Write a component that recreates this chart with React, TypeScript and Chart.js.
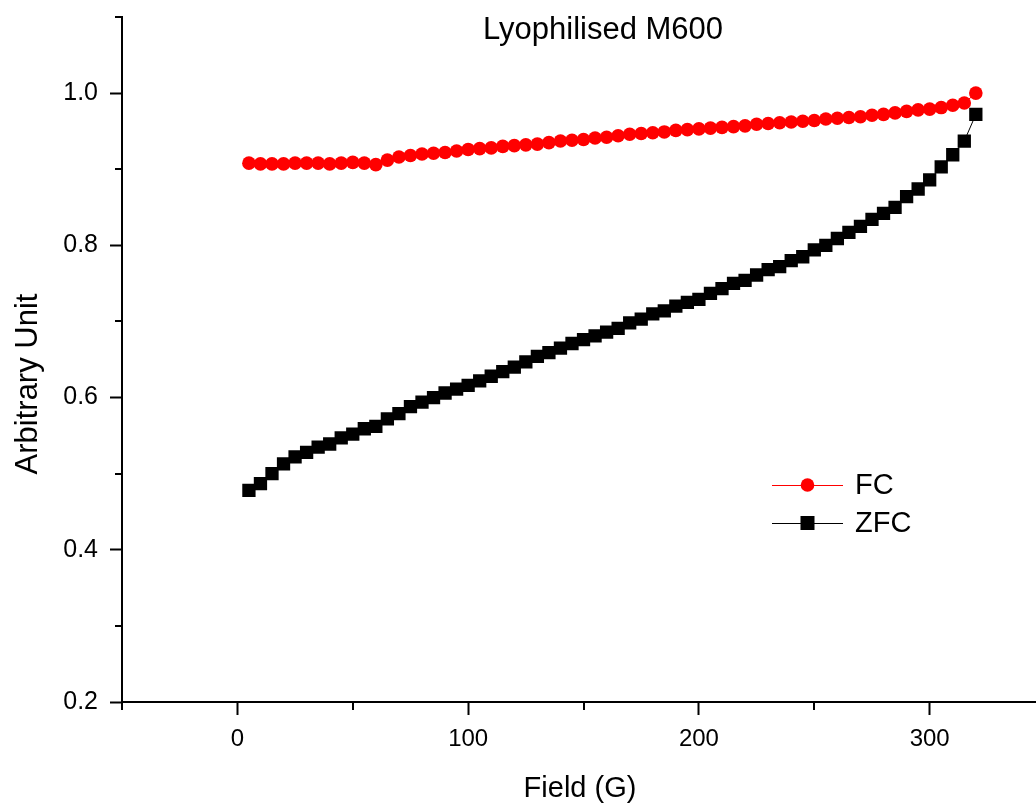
import React, { useEffect, useRef } from 'react';
import { Chart, registerables } from 'chart.js';

Chart.register(...registerables);

const field = [
  5, 10, 15, 20, 25, 30, 35, 40, 45, 50, 55, 60, 65, 70, 75, 80, 85, 90, 95, 100,
  105, 110, 115, 120, 125, 130, 135, 140, 145, 150, 155, 160, 165, 170, 175, 180, 185, 190, 195, 200,
  205, 210, 215, 220, 225, 230, 235, 240, 245, 250, 255, 260, 265, 270, 275, 280, 285, 290, 295, 300,
  305, 310, 315, 320,
];

const fcValues = [
  0.908, 0.907, 0.907, 0.907, 0.908, 0.908, 0.908, 0.907, 0.908, 0.909, 0.908, 0.906, 0.912, 0.916, 0.918, 0.92, 0.921, 0.922, 0.924, 0.926,
  0.927, 0.928, 0.93, 0.931, 0.932, 0.933, 0.935, 0.937, 0.938, 0.939, 0.941, 0.942, 0.944, 0.946, 0.947, 0.948, 0.949, 0.951, 0.952, 0.953,
  0.954, 0.955, 0.956, 0.957, 0.959, 0.96, 0.961, 0.962, 0.963, 0.964, 0.966, 0.967, 0.968, 0.969, 0.971, 0.972, 0.974, 0.976, 0.978, 0.979,
  0.981, 0.984, 0.987, 1.0,
];

const zfcValues = [
  0.478, 0.487, 0.5, 0.513, 0.522, 0.528, 0.535, 0.539, 0.547, 0.552, 0.559, 0.562, 0.572, 0.579, 0.588, 0.594, 0.6, 0.606, 0.611, 0.616,
  0.622, 0.628, 0.634, 0.64, 0.647, 0.654, 0.659, 0.665, 0.671, 0.676, 0.681, 0.686, 0.691, 0.698, 0.703, 0.71, 0.714, 0.72, 0.725, 0.729,
  0.737, 0.743, 0.75, 0.754, 0.761, 0.768, 0.772, 0.78, 0.785, 0.794, 0.8, 0.809, 0.817, 0.825, 0.834, 0.842, 0.85, 0.864, 0.874, 0.886,
  0.903, 0.919, 0.937, 0.972,
];

const seriesLabels = ['FC', 'ZFC'];
const xMajorTicks = [0, 100, 200, 300];
const yMajorTicks = [0.2, 0.4, 0.6, 0.8, 1.0];
const xMinorTicks = [-50, 50, 150, 250];
const yMinorTicks = [0.3, 0.5, 0.7, 0.9, 1.1];
const chartTitle = 'Lyophilised M600';
const xTitle = 'Field (G)';
const yTitle = 'Arbitrary Unit';

const FONT = '"Liberation Sans", Arial, Helvetica, sans-serif';

const decorPlugin = {
  id: 'decor',
  afterDraw(chart: any) {
    const ctx = chart.ctx;
    const xs = chart.scales.x;
    const ys = chart.scales.y;
    const area = chart.chartArea;
    ctx.save();
    ctx.strokeStyle = '#000';
    ctx.lineWidth = 2;
    // x axis line continues to the image edge
    const axisY = Math.round(area.bottom);
    ctx.beginPath();
    ctx.moveTo(area.right - 2, axisY);
    ctx.lineTo(chart.width, axisY);
    ctx.stroke();
    xMinorTicks.forEach((v) => {
      const px = Math.round(xs.getPixelForValue(v));
      ctx.beginPath();
      ctx.moveTo(px, area.bottom);
      ctx.lineTo(px, area.bottom + 8);
      ctx.stroke();
    });
    yMinorTicks.forEach((v) => {
      const py = Math.round(ys.getPixelForValue(v));
      ctx.beginPath();
      ctx.moveTo(area.left - 7, py);
      ctx.lineTo(area.left, py);
      ctx.stroke();
    });

    ctx.fillStyle = '#000';
    ctx.textAlign = 'center';
    ctx.textBaseline = 'alphabetic';
    ctx.font = `31px ${FONT}`;
    ctx.fillText(chartTitle, 603, 39);
    ctx.font = `29px ${FONT}`;
    ctx.fillText(xTitle, 580, 797);

    ctx.save();
    ctx.translate(37, 384);
    ctx.rotate(-Math.PI / 2);
    ctx.font = `31px ${FONT}`;
    ctx.fillText(yTitle, 0, 0);
    ctx.restore();

    // legend
    const rows = [485, 523];
    chart.data.datasets.forEach((ds: any, i: number) => {
      const y = rows[i];
      ctx.strokeStyle = ds.borderColor;
      ctx.lineWidth = 1;
      ctx.beginPath();
      ctx.moveTo(772, y + 0.5);
      ctx.lineTo(843, y + 0.5);
      ctx.stroke();
      ctx.fillStyle = ds.pointBackgroundColor;
      if (ds.pointStyle === 'rect') {
        ctx.fillRect(807.5 - 7, y - 7, 14, 14);
      } else {
        ctx.beginPath();
        ctx.arc(807.5, y, 6.8, 0, Math.PI * 2);
        ctx.fill();
      }
      ctx.fillStyle = '#000';
      ctx.textAlign = 'left';
      ctx.textBaseline = 'middle';
      ctx.font = `29px ${FONT}`;
      ctx.fillText(ds.label, 855, y + 1);
    });
    ctx.restore();
  },
};

export default function App() {
  const canvasRef = useRef<HTMLCanvasElement | null>(null);

  useEffect(() => {
    if (!canvasRef.current) return;
    const chart = new Chart(canvasRef.current, {
      type: 'line',
      data: {
        datasets: [
          {
            label: seriesLabels[0],
            data: field.map((f, i) => ({ x: f, y: fcValues[i] })),
            borderColor: '#ff0000',
            backgroundColor: '#ff0000',
            pointBackgroundColor: '#ff0000',
            pointBorderWidth: 0,
            pointStyle: 'circle',
            pointRadius: 6.8,
            borderWidth: 1,
            fill: false,
            tension: 0,
          },
          {
            label: seriesLabels[1],
            data: field.map((f, i) => ({ x: f, y: zfcValues[i] })),
            borderColor: '#000000',
            backgroundColor: '#000000',
            pointBackgroundColor: '#000000',
            pointBorderWidth: 0,
            pointStyle: 'rect',
            pointRadius: 9.4,
            borderWidth: 1,
            fill: false,
            tension: 0,
          },
        ],
      },
      options: {
        animation: false,
        responsive: false,
        devicePixelRatio: 1,
        layout: { padding: { top: 17, left: 0, right: 0, bottom: 0 } },
        plugins: {
          legend: { display: false },
          title: { display: false },
          tooltip: { enabled: false },
        },
        scales: {
          x: {
            type: 'linear',
            min: -50,
            max: 342,
            border: { display: true, color: '#000', width: 2 },
            grid: {
              display: true,
              drawOnChartArea: false,
              drawTicks: true,
              tickLength: 13,
              tickWidth: 2,
              tickColor: '#000',
            },
            ticks: {
              autoSkip: false,
              maxRotation: 0,
              color: '#000',
              padding: 10,
              font: { family: FONT, size: 24 },
            },
            afterBuildTicks(scale: any) {
              scale.ticks = xMajorTicks.map((v) => ({ value: v }));
            },
            afterFit(scale: any) {
              scale.height = 102;
              scale.paddingLeft = 0;
              scale.paddingRight = 0;
            },
          },
          y: {
            type: 'linear',
            min: 0.2,
            max: 1.1,
            border: { display: true, color: '#000', width: 2 },
            grid: {
              display: true,
              drawOnChartArea: false,
              drawTicks: true,
              tickLength: 12,
              tickWidth: 2,
              tickColor: '#000',
            },
            ticks: {
              autoSkip: false,
              color: '#000',
              padding: 12,
              font: { family: FONT, size: 25 },
              callback: (v: any) => Number(v).toFixed(1),
            },
            afterBuildTicks(scale: any) {
              scale.ticks = yMajorTicks.map((v) => ({ value: v }));
            },
            afterFit(scale: any) {
              scale.width = 122;
              scale.paddingTop = 0;
              scale.paddingBottom = 0;
            },
          },
        },
      },
      plugins: [decorPlugin],
    });
    return () => chart.destroy();
  }, []);

  return (
    <div style={{ position: 'fixed', left: 0, top: 0, width: 1036, height: 804, background: '#fff' }}>
      <canvas ref={canvasRef} width={1036} height={804} />
    </div>
  );
}
